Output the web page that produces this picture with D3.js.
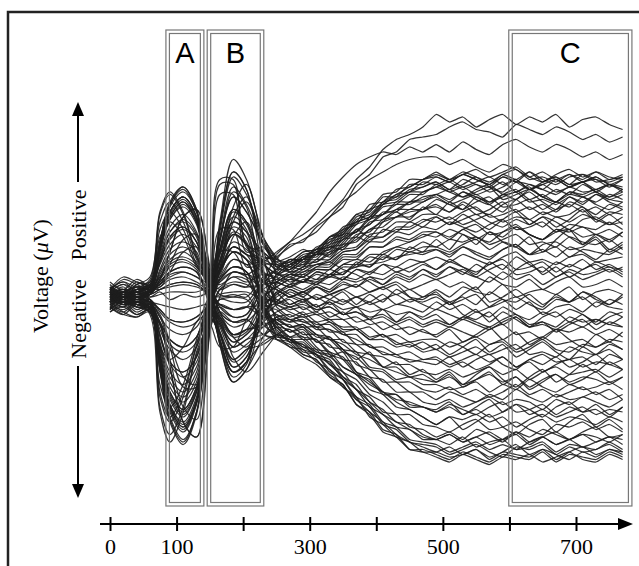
<!DOCTYPE html>
<html>
<head>
<meta charset="utf-8">
<script src="https://cdn.jsdelivr.net/npm/d3@7"></script>
<style>
  body { margin: 0; background: #fff; }
  svg { display: block; }
</style>
</head>
<body>
<svg id="chart" width="639" height="566"></svg>
<script>
// sample times (ms)
var times = [0,20,40,60,75,90,110,130,150,165,185,205,230,250,270,
  290,310,330,350,370,390,410,430,450,470,490,510,530,550,570,590,610,630,650,670,690,710,730,750,770];

// one row per trace, voltage in arbitrary units
var traces = [
  [2,-1,3,4, 20,34,40,32, 6, 11,20,17, 15, 12,13,16,19,20,26,30,32,38,39,43,44, 46,43,47,45,44,48,46,43,45,47,44,46,48,45,43],
  [-2,1,-3,-5, -44,-55,-44,-22, -8, 28,50,43, 11, -3,-6,-8,-7,-10,-12,-12,-16,-15,-18,-20,-18, -21,-18,-20,-23,-19,-18,-22,-20,-17,-21,-22,-19,-20,-18,-21],
  [1,3,-2,2, 5,9,10,8, 4, -17,-30,-26, 5, 17,22,25,29,34,39,47,52,59,63,65,68, 73,70,72,68,71,73,69,72,70,73,68,71,72,69,67],
  [-1,-3,0,-3, -23,-38,-45,-36, -7, 3,5,4, 15, 15,21,22,28,32,36,45,49,56,58,63,64, 65,68,70,67,66,64,69,67,65,68,66,63,65,62,64],
  [3,1,2,5, 19,32,38,30, 8, -6,-10,-9, 5, 11,11,15,17,18,24,26,31,33,37,37,40, 41,43,40,42,44,39,41,43,40,38,42,41,43,40,42],
  [0,-2,-4,-6, -29,-49,-58,-46, -10, 17,30,26, -3, -16,-17,-22,-23,-30,-33,-41,-44,-51,-53,-58,-59, -60,-63,-61,-59,-62,-64,-60,-61,-59,-63,-60,-62,-61,-59,-62],
  [-2,2,1,3, 13,21,25,20, 5, 41,41,18, 20, 9,8,11,13,13,18,19,23,24,27,27,30, 32,29,31,33,30,28,31,29,32,30,27,31,32,29,30],
  [2,0,-1,-2, -10,-17,-20,-16, -1, -11,-20,-17, -15, -12,-13,-16,-17,-22,-24,-30,-32,-38,-39,-43,-44, -46,-43,-45,-47,-44,-42,-46,-45,-43,-47,-44,-46,-45,-48,-44],
  [-1,1,3,4, 22,37,44,35, 9, 8,15,13, 6, 3,0,2,4,1,3,5,2,4,6,3,5, 7,4,6,3,8,5,4,7,3,6,8,4,5,7,4],
  [1,-1,-2,-4, -25,-43,-50,-40, -6, -8,-15,-13, 0, 4,7,6,9,8,12,12,16,15,19,18,20, 20,18,21,23,19,22,20,17,21,22,19,20,23,18,21],
  [3,-2,1,0, 2,-1,1,0, 3, 19,35,30, 8, -1,-4,-2,-5,-4,-7,-6,-8,-7,-10,-8,-11, -9,-11,-8,-10,-12,-9,-7,-11,-10,-12,-8,-10,-9,-11,-8],
  [0,2,-1,2, 7,18,32,35, 10, -14,-25,-21, -19, -15,-16,-20,-21,-27,-30,-37,-40,-46,-47,-52,-53, -56,-54,-57,-53,-55,-58,-54,-56,-53,-55,-57,-54,-52,-56,-55],
  [-3,-1,2,-1, -18,-30,-35,-28, -5, 6,10,9, 13, 13,14,18,19,24,26,33,35,41,42,47,47, 50,47,49,51,48,50,52,48,46,49,51,48,50,47,49],
  [2,7,5,3, 8,13,15,12, 7, 30,55,47, 24, 12,10,14,14,18,20,25,26,31,32,35,35, 39,37,35,38,40,36,37,39,35,38,36,40,37,35,38],
  [-4,-7,-8,-6, -30,-50,-59,-47, -9, -3,-5,-4, -8, -7,-10,-9,-13,-13,-18,-19,-23,-24,-27,-27,-30, -31,-29,-32,-30,-28,-31,-29,-33,-30,-28,-31,-30,-29,-32,-29],
  [1,3,0,2, 15,26,30,24, 2, 14,25,21, -5, -17,-19,-23,-25,-32,-35,-43,-47,-54,-56,-61,-62, -64,-66,-63,-65,-67,-64,-65,-63,-66,-64,-62,-65,-66,-63,-65],
  [0,-3,-1,-2, -5,-9,-10,-8, -4, -19,-34,-29, -8, 1,5,3,6,5,8,7,10,9,12,10,13, 11,14,12,10,13,15,11,12,14,10,13,11,14,12,11],
  [2,0,3,4, 21,36,42,34, 8, 1,0,-1, -8, -9,-12,-12,-16,-17,-22,-24,-29,-30,-34,-34,-37, -38,-36,-39,-37,-40,-38,-35,-39,-37,-40,-38,-36,-39,-37,-41],
  [-2,0,-3,-4, -38,-48,-38,-19, -3, 22,40,34, 21, 14,12,16,16,21,23,29,31,36,37,41,41, 45,42,44,41,43,46,42,45,43,41,44,42,43,45,42],
  [-1,2,0,1, 10,17,20,16, 1, -7,-12,-10, -4, -3,0,-2,1,-1,-3,0,-2,1,-3,-1,-2, 0,-3,-1,1,-4,-2,0,-3,-5,-1,-2,0,-4,-1,-3],
  [1,-2,-1,-2, -15,-26,-30,-24, -2, 10,18,15, 10, 7,7,10,11,11,15,15,20,20,23,22,25, 24,27,25,23,26,24,28,25,23,26,27,24,25,22,26],
  [3,1,2,4, 18,31,36,29, 6, 9,24,30, 9, -11,-16,-16,-21,-22,-28,-31,-37,-39,-44,-45,-48, -51,-48,-49,-47,-50,-48,-52,-49,-47,-50,-48,-49,-51,-48,-50],
  [-3,0,-2,-5, -26,-44,-52,-42, -8, -15,-28,-24, -7, 0,3,1,4,2,5,4,7,5,8,6,9, 7,9,11,8,6,10,7,9,5,8,10,7,9,11,8],
  [2,-1,3,1, 3,4,5,4, 2, 4,8,7, -3, -5,-9,-8,-11,-11,-15,-15,-20,-20,-23,-22,-25, -24,-27,-25,-23,-26,-24,-28,-25,-23,-26,-25,-24,-27,-23,-25],
  [0,-2,1,-2, -20,-34,-40,-32, 0, 26,48,41, 24, 15,13,17,18,23,25,32,34,40,40,45,45, 48,46,49,47,45,48,46,50,47,45,48,49,46,47,48],
  [-2,1,0,2, 14,24,28,22, 3, -10,-18,-15, -8, -3,-5,-4,-7,-6,-9,-8,-11,-10,-13,-12,-14, -15,-12,-14,-16,-13,-11,-15,-14,-17,-13,-14,-12,-15,-13,-16],
  [-1,-3,-2,-5, -11,-28,-50,-56, -14, 12,22,19, 13, 9,9,12,13,15,19,20,25,26,30,30,33, 33,31,34,36,32,33,35,31,34,32,33,36,31,34,33],
  [1,2,4,3, 20,33,39,31, 10, 23,42,36, 1, -14,-18,-19,-24,-26,-33,-37,-44,-47,-52,-53,-57, -57,-59,-56,-60,-58,-57,-61,-58,-56,-59,-57,-60,-58,-56,-59],
  [-2,1,-1,-1, -8,-13,-15,-12, -2, 1,2,2, -1, -1,-3,-1,-4,-2,-5,-4,-6,-5,-7,-6,-8, -5,-7,-9,-6,-8,-4,-7,-9,-6,-8,-5,-7,-10,-6,-8],
  [0,2,0,1, 6,10,12,10, -3, -18,-32,-27, -2, 9,13,12,17,17,23,24,30,31,35,35,38, 40,37,39,41,38,40,42,38,39,37,40,38,41,39,38],
  [-1,1,-2,-3, -23,-39,-46,-37, -5, 7,12,10, -5, -10,-14,-13,-18,-19,-25,-26,-32,-33,-38,-38,-42, -43,-41,-44,-42,-40,-43,-41,-42,-45,-41,-43,-40,-42,-44,-41],
  [2,-1,1,3, 17,28,33,26, 7, 3,5,4, 5, 6,4,7,6,9,9,13,12,16,15,18,17, 19,17,20,18,16,19,21,17,18,20,16,19,18,17,20],
  [0,-1,-3,-2, -13,-21,-25,-20, 1, 15,28,24, -4, -15,-20,-21,-26,-29,-36,-40,-48,-51,-56,-58,-62, -62,-64,-63,-61,-65,-62,-63,-64,-61,-63,-65,-62,-64,-61,-63],
  [1,3,2,4, 33,41,33,16, 6, -4,-8,-7, 3, 6,9,9,12,12,17,17,22,22,26,25,28, 27,30,28,26,29,31,27,28,30,26,29,28,27,30,27],
  [-2,-4,-1,-5, -27,-45,-53,-42, -7, -11,-20,-17, -10, -6,-4,-7,-6,-9,-9,-13,-12,-16,-15,-18,-17, -17,-20,-18,-16,-19,-17,-21,-18,-16,-19,-18,-17,-20,-17,-18],
  [1,0,2,2, 9,15,18,14, 5, 11,30,38, 22, 13,12,16,17,22,24,30,32,37,38,42,42, 44,46,43,45,42,44,47,43,45,42,44,46,43,45,43],
  [-1,2,0,-2, -3,-4,-5,-4, -3, -8,-15,-13, -11, -9,-9,-12,-12,-17,-17,-22,-23,-28,-28,-32,-31, -34,-32,-35,-33,-31,-34,-32,-36,-33,-31,-34,-32,-33,-35,-32],
  [3,1,0,3, 19,31,37,30, 8, 11,20,17, 6, 3,0,2,-1,1,3,0,2,4,1,3,0, 3,0,4,2,1,5,0,2,3,1,4,-1,2,3,1],
  [-2,-1,-3,-3, -21,-36,-42,-34, -6, -1,-2,-2, 6, 8,12,11,15,15,21,22,27,28,32,32,35, 36,34,37,33,35,38,34,36,33,35,37,34,36,33,35],
  [0,3,1,2, 4,7,8,6, 3, 14,25,21, -3, -12,-17,-17,-22,-23,-30,-33,-39,-42,-47,-47,-51, -52,-54,-51,-49,-53,-52,-50,-53,-55,-51,-52,-50,-53,-51,-54],
  [-3,-1,-4,-6, -29,-48,-57,-46, -4, 19,35,30, 14, 6,4,6,5,8,7,11,10,13,12,15,14, 16,14,17,15,13,16,18,14,15,13,16,17,14,15,16],
  [2,0,1,2, 16,26,31,25, -2, -12,-22,-19, -12, -8,-7,-10,-10,-14,-14,-19,-19,-23,-23,-26,-25, -25,-28,-26,-29,-27,-24,-28,-26,-30,-27,-25,-28,-26,-27,-29],
  [1,-2,0,-1, -16,-27,-32,-26, -4, 8,15,13, 14, 11,15,15,19,21,27,29,35,37,41,42,46, 45,47,44,46,48,45,47,43,46,48,45,46,47,44,47],
  [3,8,6,5, 22,37,43,34, 11, 45,45,20, 14, 4,1,-1,0,-3,-1,-4,-2,-5,-3,-4,-6, -2,-5,-3,-6,-4,-1,-5,-2,-7,-4,-3,-6,-2,-4,-5],
  [-1,-3,-2,-4, -10,-25,-44,-49, -12, -6,-10,-9, -15, -16,-17,-21,-23,-29,-33,-40,-43,-50,-52,-57,-58, -59,-62,-60,-58,-61,-59,-61,-60,-58,-62,-59,-60,-61,-58,-61],
  [0,1,-1,1, 11,19,22,18, 4, 6,10,9, 7, 5,8,6,10,9,13,13,17,17,20,19,22, 20,23,22,24,21,23,25,21,22,20,24,22,21,23,19],
  [-2,0,-1,-3, -19,-32,-38,-30, -6, -17,-30,-26, -18, -15,-13,-17,-17,-23,-25,-31,-33,-39,-39,-44,-44, -46,-44,-47,-45,-48,-46,-43,-47,-45,-48,-46,-44,-47,-45,-46],
  [1,-1,2,0, 1,2,2,2, 5, 24,44,37, 21, 13,11,15,15,20,21,27,29,34,34,38,38, 41,39,42,40,38,41,39,43,40,38,41,40,42,39,41],
  [-2,-6,-8,-5, -27,-46,-54,-43, -9, 3,6,5, 0, -2,-4,-3,-5,-4,-7,-6,-9,-8,-11,-9,-12, -10,-12,-9,-11,-13,-10,-8,-12,-11,-13,-10,-12,-9,-11,-12],
  [0,2,1,3, 27,34,27,13, 4, -3,-5,-4, 5, 7,10,10,13,14,18,19,24,24,28,28,31, 30,32,29,31,33,30,32,31,28,32,30,33,31,29,32],
  [1,-1,-2,-2, -11,-19,-22,-18, 2, 18,32,27, 2, -8,-12,-11,-15,-16,-21,-22,-28,-29,-33,-32,-35, -35,-37,-36,-34,-38,-35,-37,-33,-36,-38,-35,-37,-36,-34,-37],
  [3,2,4,5, 20,34,40,32, 3, -9,-16,-14, -3, 1,4,2,5,3,7,6,8,7,10,8,11, 9,12,10,8,11,13,9,10,12,8,11,9,10,12,9],
  [-2,-1,-3,-4, -35,-44,-35,-17, -2, 14,26,22, -3, -13,-18,-18,-23,-25,-32,-35,-42,-45,-50,-51,-55, -57,-55,-58,-56,-54,-57,-55,-59,-56,-54,-57,-55,-56,-58,-55],
  [2,0,3,2, 7,12,14,11, 1, 0,1,0, 8, 10,14,13,18,19,25,26,32,33,38,38,42, 44,42,40,43,45,41,42,44,40,43,41,45,42,40,43],
  [-3,-2,-4,-5, -26,-43,-51,-41, 0, 12,32,40, 16, -4,-8,-6,-10,-9,-13,-13,-17,-17,-20,-19,-22, -21,-24,-22,-20,-23,-21,-19,-23,-22,-24,-20,-22,-23,-21,-25],
  [1,3,0,2, 14,23,27,22, 2, -14,-26,-22, -3, 6,9,8,11,11,16,16,20,20,24,23,26, 26,24,27,29,25,26,28,25,23,27,26,28,25,27,24],
  [-1,1,-2,-1, -6,-10,-12,-10, 1, 7,12,10, -9, -17,-18,-23,-25,-31,-35,-43,-46,-53,-55,-61,-61, -63,-65,-62,-64,-66,-63,-64,-65,-62,-66,-63,-64,-65,-62,-64],
  [2,1,3,4, 19,32,38,30, 9, 19,34,29, 10, 3,0,2,-1,1,-2,0,-3,-1,1,-2,0, 1,-2,0,-3,2,-1,-2,1,-3,0,-2,2,-1,-3,0],
  [-1,-3,-2,-4, -24,-40,-47,-38, -7, -4,-8,-7, 7, 11,15,15,20,22,28,30,37,38,43,44,47, 49,47,50,48,46,49,51,47,48,46,49,47,50,48,47],
  [0,2,-1,1, 3,5,6,5, 2, 10,18,15, -3, -11,-11,-15,-15,-20,-21,-27,-29,-34,-34,-38,-38, -41,-38,-40,-42,-39,-41,-37,-40,-42,-39,-41,-40,-38,-41,-39],
  [4,-3,5,6, 24,30,24,12, 5, -6,-16,-20, -10, 6,9,8,12,14,11,9,6,3,5,0,-3, -5,-2,-7,-9,-6,-11,-8,-12,-10,-14,-11,-9,-13,-10,-12],
  [-5,2,-4,-3, -8,-20,-36,-36, -12, 27,27,12, 14, 18,22,28,34,42,48,53,56,58,57,60,58, 61,58,62,59,57,61,63,60,58,61,59,56,58,55,57],
  [3,6,2,4, 4,10,18,20, 8, 14,36,45, 24, 16,10,12,18,16,22,27,24,30,34,31,36, 33,38,35,40,37,34,39,42,38,35,40,37,41,38,36],
  [-6,-3,-7,-5, -40,-50,-40,-20, -9, -14,-25,-21, -16, -10,-14,-12,-18,-16,-21,-25,-22,-28,-26,-31,-29, -33,-30,-35,-31,-28,-33,-36,-32,-29,-34,-31,-27,-30,-26,-29],
  [5,1,6,3, 5,8,10,8, 4, 18,18,8, -6, -12,-16,-14,-20,-24,-22,-30,-34,-38,-42,-45,-48, -51,-48,-53,-50,-47,-52,-55,-51,-49,-54,-50,-47,-52,-49,-53],
  [2,5,3,6, 22,38,44,35, 7, 5,8,6, 9, 8,5,9,7,11,9,14,12,17,15,20,18, 23,19,25,21,26,22,20,24,18,23,27,21,24,19,22],
  [-4,-7,-3,-6, -11,-28,-50,-56, -14, 0,10,8, 3, -2,3,0,-4,-1,2,-3,1,-2,3,0,-1, 2,-3,1,4,-2,0,3,-1,-4,1,-2,2,0,-3,1],
  [4,2,5,8, 30,38,30,15, 6, -19,-34,-29, -16, -8,-10,-7,-12,-10,-14,-13,-17,-15,-19,-18,-21, -19,-23,-20,-17,-22,-19,-24,-21,-18,-22,-25,-20,-23,-19,-21],
  [-2,1,-3,-2, -15,-26,-30,-24, 2, 47,47,21, 18, 12,15,14,18,20,19,24,22,27,26,30,28, 32,29,33,30,27,31,34,29,32,28,31,35,30,33,29],
  [1,4,0,3, 5,13,23,25, 9, -6,-10,-9, -15, -17,-20,-24,-27,-32,-36,-41,-46,-50,-55,-58,-60, -62,-60,-63,-61,-64,-62,-59,-63,-61,-65,-62,-60,-63,-61,-62],
  [-3,-6,-2,-4, -10,-17,-20,-16, -3, -10,-18,-15, -6, -2,2,0,4,2,6,4,8,5,9,7,11, 8,12,9,13,10,7,11,14,9,12,8,11,13,10,12],
  [3,6,4,7, 34,42,34,17, 8, 17,30,26, 18, 14,16,19,17,24,27,33,31,37,40,42,44, 46,43,45,48,44,42,46,45,43,47,44,46,42,45,44],
  [-5,-2,-6,-4, -23,-38,-45,-36, -6, -9,-24,-30, -22, -15,-17,-19,-22,-24,-28,-31,-35,-38,-41,-42,-44, -45,-42,-47,-44,-41,-46,-43,-45,-48,-44,-42,-46,-43,-47,-44],
  [6,3,7,4, 3,5,6,5, 0, -3,-5,-4, -3, 2,-3,-1,-6,-2,-7,-4,-9,-5,-10,-6,-9, -7,-11,-8,-5,-10,-6,-9,-12,-8,-6,-10,-7,-11,-8,-6],
  [-3,-5,-2,-7, -46,-58,-46,-23, -10, 22,40,34, 22, 15,14,18,19,24,25,31,33,38,41,44,47, 48,46,49,47,45,49,47,50,46,48,45,49,47,46,48],
  [2,0,3,1, 7,18,32,35, 12, -8,-15,-13, -12, -9,-12,-11,-15,-17,-19,-23,-25,-28,-30,-32,-33, -34,-31,-36,-33,-30,-35,-32,-37,-34,-31,-35,-33,-30,-34,-32],
  [0,-4,2,-1, -5,-9,-10,-8, -2, 14,25,21, 16, 16,20,23,26,32,38,42,47,50,53,55,56, 56,53,55,52,50,53,51,48,50,47,49,46,48,45,47],
  [4,1,3,5, 14,24,28,22, 5, 7,12,10, 2, -3,-1,-5,-3,-8,-6,-10,-9,-13,-11,-15,-13, -16,-13,-18,-15,-12,-17,-14,-19,-16,-13,-17,-20,-15,-18,-14],
  [-4,-1,-5,-3, -7,-18,-32,-35, -11, -20,-20,-9, 0, 4,7,6,10,9,13,15,14,18,20,22,24, 26,23,27,24,22,26,29,25,23,27,24,21,25,23,26],
  [2,5,1,3, 8,14,16,13, 6, 28,50,43, 18, 10,6,8,5,9,7,11,9,13,10,12,14, 11,15,12,9,14,11,16,13,10,14,12,15,11,13,10],
  [-6,-4,-7,-5, -24,-41,-48,-38, -6, -1,0,1, -11, -15,-17,-20,-23,-27,-32,-37,-42,-47,-50,-53,-56, -57,-55,-58,-56,-59,-57,-54,-58,-56,-59,-57,-55,-58,-56,-57],
  [3,0,4,2, 20,34,40,32, -2, -17,-30,-26, -1, 9,13,15,17,19,23,26,29,33,35,38,39, 41,38,42,39,37,41,43,39,41,38,42,40,38,41,39],
  [-2,0,-3,-5, -20,-25,-20,-10, -5, 10,18,15, -2, -7,-9,-10,-12,-13,-15,-17,-20,-22,-24,-25,-26, -27,-24,-28,-25,-23,-27,-29,-25,-27,-24,-28,-26,-23,-27,-25],
  [1,3,-1,2, 6,10,12,10, -4, -15,-28,-24, -5, 2,5,6,7,8,10,12,13,14,16,17,18, 19,16,20,17,15,19,21,17,19,16,20,18,15,19,17],
  [-5,-2,-4,-6, -26,-44,-52,-42, -7, 11,20,17, 13, 9,11,13,14,17,20,23,27,30,32,34,35, 37,34,38,35,33,37,39,35,37,34,38,36,33,37,35]
];

// analysis windows (ms)
var windows = [
  {label: "A", start: 84, end: 141},
  {label: "B", start: 146, end: 231},
  {label: "C", start: 599, end: 784}
];

var tickValues = [0, 100, 200, 300, 400, 500, 600, 700];
var tickLabels = ["0", "100", "", "300", "", "500", "", "700"];

var x = d3.scaleLinear().domain([0, 700]).range([110, 576]);
var y = d3.scaleLinear().domain([-72, 72]).range([477, 117]);

var svg = d3.select("#chart");

// frame (top + left only)
svg.append("path")
  .attr("d", "M8,566 L8,12 L639,12")
  .attr("fill", "none")
  .attr("stroke", "#222")
  .attr("stroke-width", 2.5);

// traces: smooth through the early components, jagged afterwards
var split = times.indexOf(250);
var pts = traces.map(function (tr) {
  return tr.map(function (v, i) { return {t: times[i], v: v}; });
});
var smooth = d3.line()
  .x(function (d) { return x(d.t); })
  .y(function (d) { return y(d.v); })
  .curve(d3.curveCatmullRom.alpha(0.5));
var jagged = d3.line()
  .x(function (d) { return x(d.t); })
  .y(function (d) { return y(d.v); })
  .curve(d3.curveCardinal.tension(0.55));

var tg = svg.append("g")
  .attr("fill", "none")
  .attr("stroke", "#1e1e1e")
  .attr("stroke-opacity", 0.9)
  .attr("stroke-width", 1.25)
  .attr("stroke-linejoin", "round");
tg.selectAll("path.early")
  .data(pts)
  .enter()
  .append("path")
  .attr("class", "early")
  .attr("d", function (d) { return smooth(d.slice(0, split + 1)); });
tg.selectAll("path.late")
  .data(pts)
  .enter()
  .append("path")
  .attr("class", "late")
  .attr("d", function (d) { return jagged(d.slice(split)); });

// double-lined window boxes
var boxTop = 30, boxBottom = 506, inset = 3.5;
var wg = svg.append("g").selectAll("g").data(windows).enter().append("g");
wg.append("rect")
  .attr("x", function (d) { return x(d.start); })
  .attr("y", boxTop)
  .attr("width", function (d) { return x(d.end) - x(d.start); })
  .attr("height", boxBottom - boxTop)
  .attr("fill", "none").attr("stroke", "#777").attr("stroke-width", 1.2);
wg.append("rect")
  .attr("x", function (d) { return x(d.start) + inset; })
  .attr("y", boxTop + inset)
  .attr("width", function (d) { return x(d.end) - x(d.start) - 2 * inset; })
  .attr("height", boxBottom - boxTop - 2 * inset)
  .attr("fill", "none").attr("stroke", "#777").attr("stroke-width", 1.2);
wg.append("text")
  .attr("x", function (d) { return (x(d.start) + x(d.end)) / 2; })
  .attr("y", 63)
  .attr("text-anchor", "middle")
  .style("font-family", "'Liberation Sans', Arial, sans-serif")
  .style("font-size", "29px")
  .text(function (d) { return d.label; });

// time axis
var axisY = 524;
var ax = svg.append("g")
  .attr("transform", "translate(0," + axisY + ")")
  .call(d3.axisBottom(x)
    .tickValues(tickValues)
    .tickFormat(function (d, i) { return tickLabels[i]; })
    .tickSizeInner(7)
    .tickSizeOuter(0));
ax.select(".domain").remove();
ax.selectAll(".tick line")
  .attr("y1", -7).attr("y2", 7)
  .attr("stroke", "#000").attr("stroke-width", 2);
ax.selectAll(".tick text")
  .attr("y", 14)
  .attr("fill", "#000")
  .style("font-family", "'Liberation Serif', 'Times New Roman', serif")
  .style("font-size", "22px");
ax.append("line")
  .attr("x1", 100).attr("x2", 622)
  .attr("stroke", "#000").attr("stroke-width", 2);
ax.append("path")
  .attr("d", "M633,0 L618,-6 L618,6 Z")
  .attr("fill", "#000");

// voltage direction indicator
var serif = "'Liberation Serif', 'Times New Roman', serif";
svg.append("line").attr("x1", 78).attr("x2", 78).attr("y1", 182).attr("y2", 112)
  .attr("stroke", "#000").attr("stroke-width", 2);
svg.append("path").attr("d", "M78,102 L72,116 L84,116 Z").attr("fill", "#000");
svg.append("line").attr("x1", 78).attr("x2", 78).attr("y1", 366).attr("y2", 486)
  .attr("stroke", "#000").attr("stroke-width", 2);
svg.append("path").attr("d", "M78,498 L72,484 L84,484 Z").attr("fill", "#000");

function vtext(cx, cy, s) {
  return svg.append("text")
    .attr("transform", "translate(" + cx + "," + cy + ") rotate(-90)")
    .attr("text-anchor", "middle")
    .attr("dy", "0.35em")
    .style("font-family", serif)
    .style("font-size", "22px")
    .text(s);
}
vtext(78, 225, "Positive");
vtext(78, 319, "Negative");
var vl = vtext(40, 276, "Voltage (");
vl.append("tspan").style("font-style", "italic").text("\u03bc");
vl.append("tspan").text("V)");
</script>
</body>
</html>
